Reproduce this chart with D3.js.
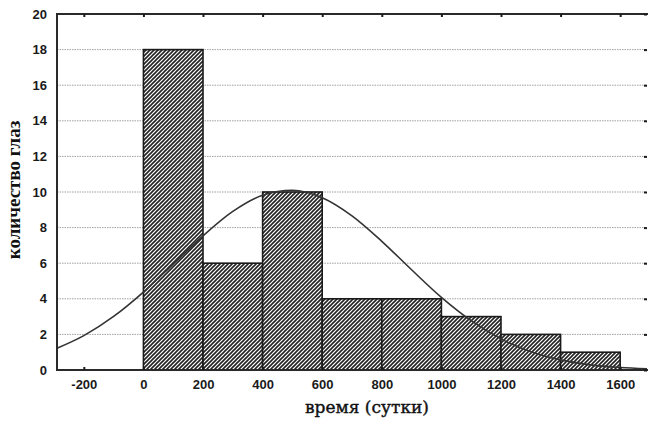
<html>

<head>
  <script src="https://d3js.org/d3.v7.min.js"></script>
  <style>
    body { margin: 0; background: white; }
    .grid line { stroke: #a0a0a0; stroke-width: 1px; stroke-dasharray: 1.5, 1; }
    .bar { fill: url(#hatch); stroke: #1a1a1a; stroke-width: 1.6px; }
    .curve { fill: none; stroke: #333; stroke-width: 1.6px; }
    .frame { fill: none; stroke: #2a2a2a; stroke-width: 2px; }
  </style>
</head>

<body>
  <svg id="chart" width="648" height="422"></svg>

  <script>
    // histogram bins (days) and counts of eyes
    const binStarts = [0, 200, 400, 600, 800, 1000, 1200, 1400, 1600];
    const binWidth = 200;
    const counts = [18, 6, 10, 4, 4, 3, 2, 1, 0];

    // fitted normal curve
    const curveX = [-290, -200, -100, 0, 100, 200, 300, 400, 500, 600, 700, 800, 900, 1000, 1100, 1200, 1300, 1400, 1500, 1600, 1690];
    const curveY = [1.22, 1.93, 3.01, 4.38, 5.95, 7.54, 8.91, 9.82, 10.1, 9.68, 8.66, 7.23, 5.63, 4.08, 2.77, 1.75, 1.03, 0.57, 0.29, 0.14, 0.07];

    const xTicks = [-200, 0, 200, 400, 600, 800, 1000, 1200, 1400, 1600];
    const yTicks = [0, 2, 4, 6, 8, 10, 12, 14, 16, 18, 20];

    const svg = d3.select("#chart");
    const plotLeft = 57, plotRight = 647, plotTop = 14, plotBottom = 370;

    const x = d3.scaleLinear().domain([-290, 1690]).range([plotLeft, plotRight]);
    const y = d3.scaleLinear().domain([0, 20]).range([plotBottom, plotTop]);

    // hatch pattern
    const pat = svg.append("defs").append("pattern")
      .attr("id", "hatch")
      .attr("patternUnits", "userSpaceOnUse")
      .attr("width", 4).attr("height", 4);
    pat.append("rect").attr("width", 4).attr("height", 4).attr("fill", "white");
    pat.append("path")
      .attr("d", "M-1,1 l2,-2 M0,4 l4,-4 M3,5 l2,-2")
      .attr("stroke", "#222").attr("stroke-width", 1.6);

    // dotted grid lines
    svg.append("g").attr("class", "grid")
      .selectAll("line").data(yTicks.filter(d => d > 0 && d < 20))
      .join("line")
      .attr("x1", plotLeft).attr("x2", plotRight)
      .attr("y1", d => y(d)).attr("y2", d => y(d));

    // bars
    svg.append("g").selectAll("rect")
      .data(binStarts.map((s, i) => ({ s: s, c: counts[i] })))
      .join("rect")
      .attr("class", "bar")
      .attr("x", d => x(d.s))
      .attr("width", d => x(d.s + binWidth) - x(d.s))
      .attr("y", d => y(d.c))
      .attr("height", d => y(0) - y(d.c));

    // normal curve
    const line = d3.line()
      .x(d => x(d[0])).y(d => y(d[1]))
      .curve(d3.curveMonotoneX);
    svg.append("path").datum(d3.zip(curveX, curveY))
      .attr("class", "curve")
      .attr("d", line);

    // frame (right side runs off the picture)
    svg.append("rect").attr("class", "frame")
      .attr("x", plotLeft).attr("y", plotTop)
      .attr("width", plotRight - plotLeft + 4).attr("height", plotBottom - plotTop);

    // axes (ticks inside)
    const fmt = d => String(d);
    const xAxis = svg.append("g")
      .attr("transform", "translate(0," + plotBottom + ")")
      .call(d3.axisBottom(x).tickValues(xTicks).tickSize(-3).tickPadding(10).tickFormat(fmt));
    const xTop = svg.append("g")
      .attr("transform", "translate(0," + plotTop + ")")
      .call(d3.axisTop(x).tickValues(xTicks).tickSize(-3).tickFormat(""));
    const yAxis = svg.append("g")
      .attr("transform", "translate(" + plotLeft + ",0)")
      .call(d3.axisLeft(y).tickValues(yTicks).tickSize(0).tickPadding(10).tickFormat(fmt));
    const yRight = svg.append("g")
      .attr("transform", "translate(" + plotRight + ",0)")
      .call(d3.axisRight(y).tickValues(yTicks).tickSize(-3).tickFormat(""));

    [xAxis, xTop, yAxis, yRight].forEach(a => {
      a.attr("font-family", "Liberation Sans, Arial, sans-serif")
        .attr("font-size", 13).attr("font-weight", "bold");
      a.select(".domain").remove();
      a.selectAll(".tick line").attr("stroke", "#1a1a1a").attr("stroke-width", 2);
      a.selectAll(".tick text").attr("fill", "#1a1a1a");
    });

    // titles
    svg.append("text")
      .attr("x", 367).attr("y", 413)
      .attr("text-anchor", "middle")
      .attr("font-family", "DejaVu Serif, serif")
      .attr("font-size", 17)
      .attr("fill", "#111")
      .attr("stroke", "#111").attr("stroke-width", 0.4)
      .text("время (сутки)");

    svg.append("text")
      .attr("transform", "translate(20,190) rotate(-90)")
      .attr("text-anchor", "middle")
      .attr("font-family", "Liberation Serif, Times New Roman, serif")
      .attr("font-size", 19)
      .attr("font-weight", "bold")
      .attr("fill", "#111")
      .text("количество глаз");
  </script>
</body>

</html>
